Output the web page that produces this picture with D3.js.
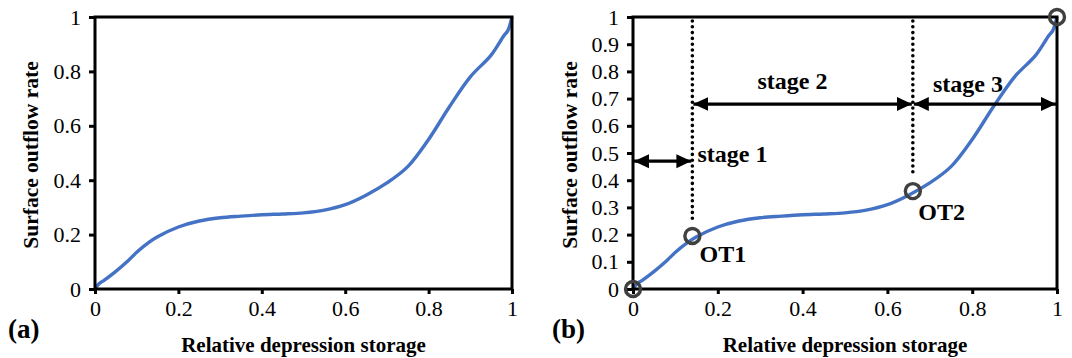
<!DOCTYPE html>
<html>
<head>
<meta charset="utf-8">
<script src="https://cdn.jsdelivr.net/npm/d3@7"></script>
<style>
  html, body { margin: 0; padding: 0; background: #fff; }
  svg { display: block; }
</style>
</head>
<body>
<svg id="fig" width="1072" height="358"></svg>
<script>
// Relative depression storage vs. surface outflow rate
const storage = [0, 0.01, 0.02, 0.05, 0.08, 0.1, 0.13, 0.15, 0.2, 0.25, 0.3, 0.35, 0.4, 0.45, 0.5, 0.55, 0.6, 0.65, 0.7, 0.75, 0.8, 0.85, 0.9, 0.95, 0.98, 0.99, 1.0];
const outflow = [0, 0.02, 0.03, 0.065, 0.105, 0.135, 0.172, 0.192, 0.228, 0.25, 0.262, 0.268, 0.273, 0.276, 0.28, 0.29, 0.31, 0.345, 0.39, 0.45, 0.55, 0.67, 0.78, 0.86, 0.93, 0.95, 1.0];

// Tick values
const xTicks = [0, 0.2, 0.4, 0.6, 0.8, 1];
const yTicksA = [0, 0.2, 0.4, 0.6, 0.8, 1];
const yTicksB = [0, 0.1, 0.2, 0.3, 0.4, 0.5, 0.6, 0.7, 0.8, 0.9, 1];

// Threshold points (OT) in panel (b)
const markerX = [0, 0.14, 0.66, 1];
const markerY = [0, 0.195, 0.36, 1];
const thresholdNames = ["OT1", "OT2"];
const thresholdX = [0.14, 0.66];
const dottedBottom = [0.24, 0.41];

// Stage spans
const stageNames = ["stage 1", "stage 2", "stage 3"];
const stageFrom = [0, 0.14, 0.66];
const stageTo = [0.14, 0.66, 1];
const stageLevel = [0.47, 0.68, 0.68];

const SERIF = '"Liberation Serif"';
const fmt = d => (d === 0 || d === 1) ? String(d) : d3.format(".1f")(d);

const svg = d3.select("#fig");
const blue = "#4472C4";

function label(sel, size, bold) {
  return sel.attr("font-family", null)
    .style("font-family", SERIF)
    .style("font-size", size + "px")
    .style("font-weight", bold ? "bold" : "normal")
    .style("fill", "#000");
}

// Arrowhead marker
const defs = svg.append("defs");
defs.append("marker")
  .attr("id", "head")
  .attr("viewBox", "0 -8 15 16")
  .attr("refX", 15).attr("refY", 0)
  .attr("markerWidth", 15).attr("markerHeight", 16)
  .attr("markerUnits", "userSpaceOnUse")
  .attr("orient", "auto-start-reverse")
  .append("path")
  .attr("d", "M0,-7L15,0L0,7Z")
  .attr("fill", "#000");

function panel(opts) {
  const { left, right, top, bottom, yTicks, tag, tagX, titleYX } = opts;
  const x = d3.scaleLinear().domain([0, 1]).range([left, right]);
  const y = d3.scaleLinear().domain([0, 1]).range([bottom, top]);
  const g = svg.append("g");

  // Curve
  const line = d3.line()
    .x((d, i) => x(storage[i]))
    .y((d, i) => y(outflow[i]))
    .curve(d3.curveCatmullRom.alpha(0.5));
  g.append("path")
    .datum(storage)
    .attr("d", line)
    .attr("fill", "none")
    .attr("stroke", blue)
    .attr("stroke-width", 3.4)
    .attr("stroke-linejoin", "round");

  // Frame
  g.append("rect")
    .attr("x", left).attr("y", top)
    .attr("width", right - left).attr("height", bottom - top)
    .attr("fill", "none").attr("stroke", "#000").attr("stroke-width", 3);

  // Axes
  const xAxis = d3.axisBottom(x).tickValues(xTicks).tickFormat(fmt).tickSize(5).tickPadding(6);
  const yAxis = d3.axisLeft(y).tickValues(yTicks).tickFormat(fmt).tickSize(6).tickPadding(8);
  const gx = g.append("g").attr("transform", `translate(0,${bottom})`).call(xAxis);
  const gy = g.append("g").attr("transform", `translate(${left},0)`).call(yAxis);
  [gx, gy].forEach(a => {
    a.attr("font-family", null).attr("font-size", null);
    a.select(".domain").remove();
    a.selectAll(".tick line").attr("stroke", "#000").attr("stroke-width", 3);
    label(a.selectAll(".tick text"), 22, false);
  });

  // Axis titles
  label(g.append("text"), 21, true)
    .attr("x", (left + right) / 2).attr("y", 352)
    .attr("text-anchor", "middle")
    .text("Relative depression storage");
  label(g.append("text"), 21.5, true)
    .attr("transform", `translate(${titleYX},${(top + bottom) / 2 + 2}) rotate(-90)`)
    .attr("text-anchor", "middle")
    .text("Surface outflow rate");

  // Panel tag
  label(g.append("text"), 27, true)
    .attr("x", tagX).attr("y", 338)
    .text(tag);

  return { g, x, y };
}

panel({ left: 95, right: 512, top: 17, bottom: 289, yTicks: yTicksA, tag: "(a)", tagX: 8, titleYX: 38 });
const b = panel({ left: 633, right: 1057, top: 17, bottom: 289, yTicks: yTicksB, tag: "(b)", tagX: 552, titleYX: 577 });

// Dotted stage boundaries
thresholdX.forEach((tx, i) => {
  b.g.append("line")
    .attr("x1", b.x(tx)).attr("x2", b.x(tx))
    .attr("y1", b.y(1) + 4).attr("y2", b.y(dottedBottom[i]))
    .attr("stroke", "#000").attr("stroke-width", 3.6)
    .attr("stroke-linecap", "round")
    .attr("stroke-dasharray", "0 5.8");
});

// Stage arrows
stageNames.forEach((name, i) => {
  b.g.append("line")
    .attr("x1", b.x(stageFrom[i]) + 1).attr("x2", b.x(stageTo[i]) - 1)
    .attr("y1", b.y(stageLevel[i])).attr("y2", b.y(stageLevel[i]))
    .attr("stroke", "#000").attr("stroke-width", 3.2)
    .attr("marker-start", "url(#head)")
    .attr("marker-end", "url(#head)");
});

// Stage labels
const stageLabelX = [0.152, 0.376, 0.79];
const stageLabelY = [0.468, 0.735, 0.725];
const stageAnchor = ["start", "middle", "middle"];
stageNames.forEach((name, i) => {
  label(b.g.append("text"), 24, true)
    .attr("x", b.x(stageLabelX[i])).attr("y", b.y(stageLabelY[i]))
    .attr("text-anchor", stageAnchor[i])
    .text(name);
});

// Threshold circles
markerX.forEach((mx, i) => {
  b.g.append("circle")
    .attr("cx", b.x(mx)).attr("cy", b.y(markerY[i]))
    .attr("r", 7.5)
    .attr("fill", "none")
    .attr("stroke", "#404040").attr("stroke-width", 3.4);
});

// Threshold labels
const otLabelX = [0.157, 0.673];
const otLabelY = [0.1, 0.255];
thresholdNames.forEach((name, i) => {
  label(b.g.append("text"), 24, true)
    .attr("x", b.x(otLabelX[i])).attr("y", b.y(otLabelY[i]))
    .text(name);
});
</script>
</body>
</html>
